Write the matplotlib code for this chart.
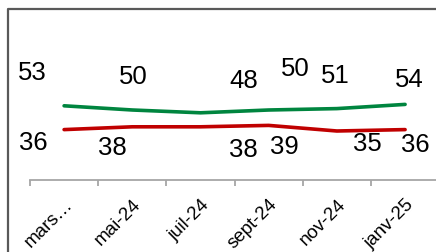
import matplotlib
matplotlib.use('Agg')
import matplotlib.pyplot as plt
from matplotlib.lines import Line2D

plt.rcParams['font.family'] = ['Liberation Sans', 'DejaVu Sans']

# data
months = ["mars-24", "mai-24", "juil-24", "sept-24", "nov-24", "janv-25"]
tick_labels = ["mars…", "mai-24", "juil-24", "sept-24", "nov-24", "janv-25"]
green_vals = [53, 50, 48, 50, 51, 54]
red_vals = [36, 38, 38, 39, 35, 36]

# label offsets (pixels) from each point, as placed in the original
green_offsets = [(-32, 34), (1, 34), (43, 33), (27, 42), (-2, 34), (4, 25)]
red_offsets = [(-31, -12), (-20, -20), (43, -22), (16, -21), (30, -12), (10, -14)]

W, H = 436, 253
fig = plt.figure(figsize=(W / 100, H / 100), dpi=100)

# outer chart border (cropped, only top and left edges visible)
fig.add_artist(Line2D([8 / W, 8 / W, 1.0], [0.0, 1 - 10 / H, 1 - 10 / H],
                      transform=fig.transFigure, color='#595959', lw=1.6))

ax = fig.add_axes([30 / W, (H - 181) / H, (W - 30) / W, 140 / H])
x = list(range(len(months)))

ax.plot(x, green_vals, color='#00853F', lw=2.6, solid_capstyle='round')
ax.plot(x, red_vals, color='#C00000', lw=2.6, solid_capstyle='round')

for xi, v, (dx, dy) in zip(x, green_vals, green_offsets):
    ax.annotate(str(v), (xi, v), xytext=(dx, dy), textcoords='offset pixels',
                ha='center', va='center', fontsize=18.5, color='black', annotation_clip=False)
for xi, v, (dx, dy) in zip(x, red_vals, red_offsets):
    ax.annotate(str(v), (xi, v), xytext=(dx, dy), textcoords='offset pixels',
                ha='center', va='center', fontsize=18.5, color='black', annotation_clip=False)

ax.set_xlim(-0.5, -0.5 + (W - 30) / 68.2)
ax.set_ylim(0, 100)

for s in ['top', 'right', 'left']:
    ax.spines[s].set_visible(False)
ax.spines['bottom'].set_color('#A6A6A6')
ax.spines['bottom'].set_linewidth(1.3)
ax.set_yticks([])

# boundary tick marks between categories, labels at the centres
ax.set_xticks([i - 0.5 for i in range(len(months))], minor=True)
ax.tick_params(axis='x', which='minor', length=4, width=1.3, color='#A6A6A6')
ax.set_xticks(x)
ax.set_xticklabels(tick_labels, rotation=45, ha='right', va='top',
                   rotation_mode='anchor', fontsize=13.5)
ax.tick_params(axis='x', which='major', length=0, pad=11)

fig.savefig('out.png', dpi=100)
